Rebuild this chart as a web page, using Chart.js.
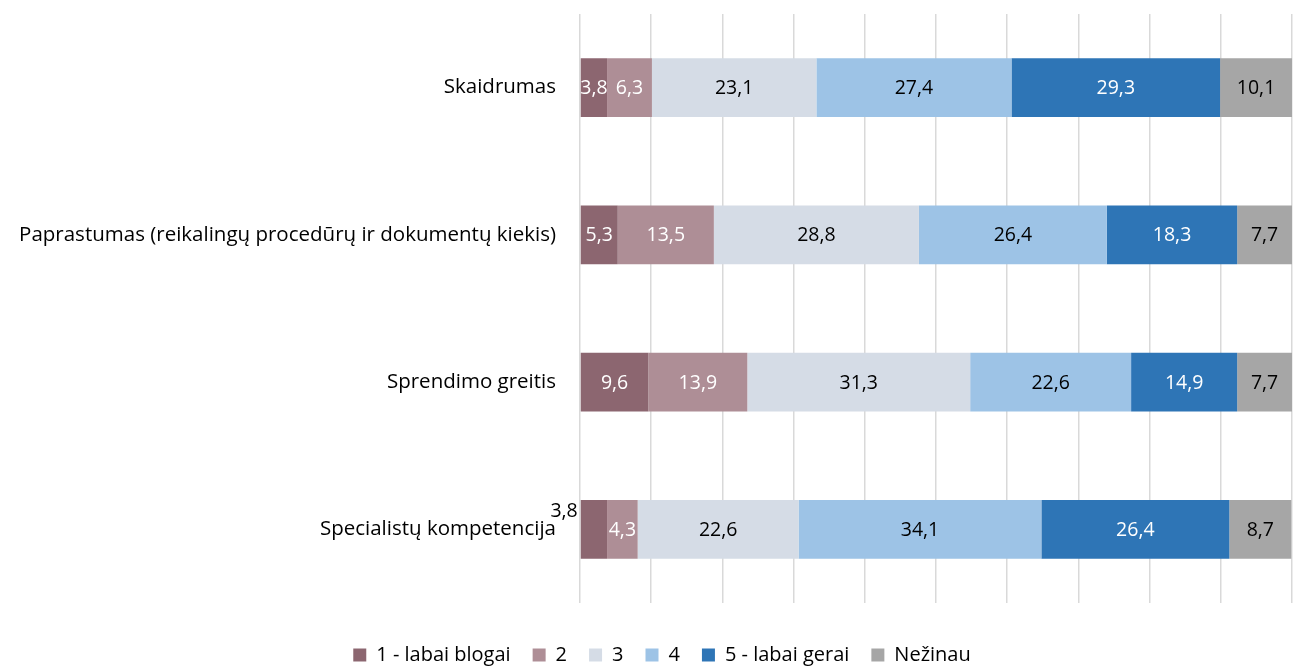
<!DOCTYPE html>
<html>
<head>
<meta charset="utf-8">
<script src="https://cdn.jsdelivr.net/npm/chart.js@4/dist/chart.umd.min.js"></script>
<style>
  html, body { margin: 0; padding: 0; background: #fff; }
  #wrap { width: 1303px; height: 667px; }
</style>
</head>
<body>
<div id="wrap"><canvas id="chart" width="1303" height="667"></canvas></div>
<script>
const categories = [
  'Skaidrumas',
  'Paprastumas (reikalingų procedūrų ir dokumentų kiekis)',
  'Sprendimo greitis',
  'Specialistų kompetencija'
];
const seriesNames = ['1 - labai blogai', '2', '3', '4', '5 - labai gerai', 'Nežinau'];
const v1 = [3.8, 5.3, 9.6, 3.8];
const v2 = [6.3, 13.5, 13.9, 4.3];
const v3 = [23.1, 28.8, 31.3, 22.6];
const v4 = [27.4, 26.4, 22.6, 34.1];
const v5 = [29.3, 18.3, 14.9, 26.4];
const vN = [10.1, 7.7, 7.7, 8.7];

const COLORS = ['#8c6670', '#ae8e96', '#d5dce6', '#9dc3e6', '#2e75b6', '#a6a6a6'];
const LABEL_COLORS = ['#fff', '#fff', '#000', '#000', '#fff', '#000'];
// labels Excel pushed outside the bar: [dataset, index]
const outsideLabels = [[0, 3]];

const FONT = '"Open Sans", "Liberation Sans", sans-serif';

const valueLabels = {
  id: 'valueLabels',
  afterDatasetsDraw(chart) {
    const ctx = chart.ctx;
    ctx.save();
    ctx.font = '19.5px ' + FONT;
    ctx.textBaseline = 'middle';
    chart.data.datasets.forEach((ds, di) => {
      const meta = chart.getDatasetMeta(di);
      meta.data.forEach((bar, i) => {
        const txt = String(ds.data[i]).replace('.', ',');
        const outside = outsideLabels.some(p => p[0] === di && p[1] === i);
        if (outside) {
          ctx.fillStyle = '#000';
          ctx.textAlign = 'right';
          ctx.fillText(txt, bar.base - 3, bar.y - 18);
        } else {
          ctx.fillStyle = LABEL_COLORS[di];
          ctx.textAlign = 'center';
          ctx.fillText(txt, (bar.x + bar.base) / 2, bar.y + 1);
        }
      });
    });
    ctx.restore();
  }
};

// fixed-height legend strip under the plot, nudged right like the original
const legendBox = {
  id: 'legendBox',
  beforeInit(chart) {
    const fit = chart.legend.fit;
    chart.legend.fit = function () {
      fit.call(this);
      this.height = 64;
    };
  },
  afterLayout(chart) {
    chart.legend.left += 16;
    chart.legend.right += 16;
  }
};

const sets = [v1, v2, v3, v4, v5, vN];
const datasets = sets.map((data, k) => ({
  label: seriesNames[k],
  data,
  backgroundColor: COLORS[k],
  borderWidth: 0,
  barPercentage: 0.4,
  categoryPercentage: 1
}));

new Chart(document.getElementById('chart'), {
  type: 'bar',
  data: { labels: categories, datasets },
  plugins: [valueLabels, legendBox],
  options: {
    indexAxis: 'y',
    responsive: false,
    animation: false,
    layout: { padding: { top: 14, right: 11, bottom: 0, left: 0 } },
    scales: {
      x: {
        stacked: true,
        min: 0,
        max: 100,
        ticks: { display: false, stepSize: 10 },
        grid: { color: '#d9d9d9', lineWidth: 1.5, drawTicks: false },
        border: { display: false }
      },
      y: {
        stacked: true,
        grid: { display: false },
        border: { display: false },
        ticks: { color: '#000', font: { family: FONT, size: 20.5 }, padding: 16 },
        afterFit(scale) {
          scale.width = 580;
          scale.paddingTop = 0;
          scale.paddingBottom = 0;
        }
      }
    },
    plugins: {
      legend: {
        position: 'bottom',
        title: { display: true, text: '', font: { size: 10 }, padding: { top: 8, bottom: 0 } },
        labels: {
          boxWidth: 13,
          boxHeight: 13,
          padding: 22,
          color: '#000',
          font: { family: FONT, size: 20 }
        }
      },
      tooltip: { enabled: false }
    }
  }
});
</script>
</body>
</html>
